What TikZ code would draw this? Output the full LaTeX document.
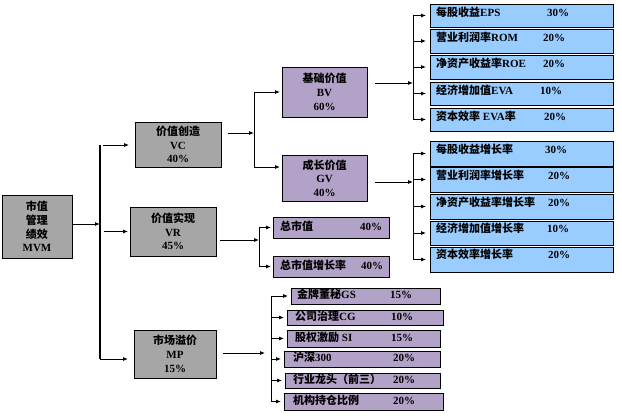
\documentclass[tikz,border=0pt]{standalone}
\usepackage{fontspec}
\setmainfont{Liberation Serif}[BoldFont={Liberation Serif Bold}]
\newfontfamily\cjk{Noto Sans CJK SC}
\usetikzlibrary{arrows.meta}
\newcommand\zh[1]{{\cjk #1}}
\definecolor{boxgray}{HTML}{A6A6A6}
\definecolor{boxpurple}{HTML}{B3A2C7}
\definecolor{boxblue}{HTML}{99CCFF}
\begin{document}
\begin{tikzpicture}[x=1pt,y=-1pt,
  font=\fontsize{11}{13.7}\selectfont\bfseries,
  box/.style={draw=black, line width=0.8pt, inner sep=0pt, outer sep=0pt, anchor=north west},
  graybox/.style={box, fill=boxgray, align=center},
  purplebox/.style={box, fill=boxpurple, align=center},
  bluebox/.style={box, fill=boxblue},
  conn/.style={line width=0.8pt},
  arr/.style={conn, -{Latex[length=5pt,width=4pt]}},
  bus/.style={line width=1.6pt},
  txt/.style={inner sep=0pt, anchor=west, text height=8pt, text depth=2pt},
  pct/.style={inner sep=0pt, anchor=center, text height=8pt, text depth=2pt}]
\useasboundingbox (0,0) rectangle (622,419);

% main boxes
\node[graybox, minimum width=70pt, minimum height=63pt] (mvm) at (2,195) {\zh{市值}\\\zh{管理}\\\zh{绩效}\\MVM};
\node[graybox, minimum width=86pt, minimum height=45pt] (vc) at (135,122) {\zh{价值创造}\\VC\\40\%};
\node[graybox, minimum width=86pt, minimum height=49pt] (vr) at (130,207) {\zh{价值实现}\\VR\\45\%};
\node[graybox, minimum width=82pt, minimum height=48pt] (mp) at (134,330) {\zh{市场溢价}\\MP\\15\%};
\node[purplebox, minimum width=85pt, minimum height=50pt] (bv) at (282,67) {\zh{基础价值}\\BV\\60\%};
\node[purplebox, minimum width=85pt, minimum height=46pt] (gv) at (282,155) {\zh{成长价值}\\GV\\40\%};

% BV group
\node[bluebox, minimum width=183pt, minimum height=23pt] (e1) at (430,4) {};
\node[bluebox, minimum width=183pt, minimum height=24pt] (e2) at (430,29) {};
\node[bluebox, minimum width=183pt, minimum height=24pt] (e3) at (430,55) {};
\node[bluebox, minimum width=183pt, minimum height=23pt] (e4) at (430,82) {};
\node[bluebox, minimum width=183pt, minimum height=23pt] (e5) at (430,108) {};
\node[txt] (e1t) at (436,14) {\zh{每股收益}EPS};
\node[pct] (e1p) at (558,14) {30\%};
\node[txt] (e2t) at (436,39) {\zh{营业利润率}ROM};
\node[pct] (e2p) at (554,39) {20\%};
\node[txt] (e3t) at (436,65) {\zh{净资产收益率}ROE};
\node[pct] (e3p) at (554,65) {20\%};
\node[txt] (e4t) at (436,92) {\zh{经济增加值}EVA};
\node[pct] (e4p) at (551,92) {10\%};
\node[txt] (e5t) at (436,118) {\zh{资本效率} EVA\zh{率}};
\node[pct] (e5p) at (555,118) {20\%};

% GV group
\node[bluebox, minimum width=183pt, minimum height=25pt] (g1) at (430,141) {};
\node[bluebox, minimum width=183pt, minimum height=25pt] (g2) at (430,167) {};
\node[bluebox, minimum width=183pt, minimum height=25pt] (g3) at (430,194) {};
\node[bluebox, minimum width=183pt, minimum height=24pt] (g4) at (430,221) {};
\node[bluebox, minimum width=183pt, minimum height=25pt] (g5) at (430,247) {};
\node[txt] (g1t) at (436,151) {\zh{每股收益增长率}};
\node[pct] (g1p) at (556,151) {30\%};
\node[txt] (g2t) at (436,177) {\zh{营业利润率增长率}};
\node[pct] (g2p) at (559,177) {20\%};
\node[txt] (g3t) at (436,204) {\zh{净资产收益率增长率}};
\node[pct] (g3p) at (559,204) {20\%};
\node[txt] (g4t) at (436,230) {\zh{经济增加值增长率}};
\node[pct] (g4p) at (558,230) {10\%};
\node[txt] (g5t) at (436,256) {\zh{资本效率增长率}};
\node[pct] (g5p) at (559,256) {20\%};

% VR group
\node[purplebox, minimum width=116pt, minimum height=21pt] (r1) at (273,217) {};
\node[purplebox, minimum width=116pt, minimum height=21pt] (r2) at (273,256) {};
\node[txt] (r1t) at (280,227.5) {\zh{总市值}};
\node[pct] (r1p) at (371,227.5) {40\%};
\node[txt] (r2t) at (280,266.5) {\zh{总市值增长率}};
\node[pct] (r2p) at (372,266.5) {40\%};

% MP group
\node[purplebox, minimum width=149pt, minimum height=16pt] (m1) at (291,288) {};
\node[purplebox, minimum width=156pt, minimum height=15pt] (m2) at (287,310) {};
\node[purplebox, minimum width=153pt, minimum height=17pt] (m3) at (287,330) {};
\node[purplebox, minimum width=156pt, minimum height=16pt] (m4) at (284,351) {};
\node[purplebox, minimum width=155pt, minimum height=15pt] (m5) at (285,373) {};
\node[purplebox, minimum width=159pt, minimum height=17pt] (m6) at (284,393) {};
\node[txt] (m1t) at (297,296) {\zh{金牌董秘}GS};
\node[pct] (m1p) at (401,296) {15\%};
\node[txt] (m2t) at (295,317.5) {\zh{公司治理}CG};
\node[pct] (m2p) at (402,317.5) {10\%};
\node[txt] (m3t) at (295,338.5) {\zh{股权激励} SI};
\node[pct] (m3p) at (402,338.5) {15\%};
\node[txt] (m4t) at (293,359) {\zh{沪深}300};
\node[pct] (m4p) at (404,359) {20\%};
\node[txt] (m5t) at (293,380.5) {\zh{行业龙头（前三）}};
\node[pct] (m5p) at (404,380.5) {20\%};
\node[txt] (m6t) at (293,401.5) {\zh{机构持仓比例}};
\node[pct] (m6p) at (404,401.5) {20\%};

% main bus
\coordinate (mbus) at (100,224);
\coordinate (mtop) at (100,145);
\coordinate (mbot) at (100,359);
\draw[arr] (mvm.east |- mbus) -- (mbus);
\draw[bus] (mtop) -- (mbot);
\draw[arr, shorten <=3pt, shorten >=6pt] (mtop) -- (mtop -| vc.west);
\draw[arr, shorten <=4pt, shorten >=2pt] (mbus |- vr.west) -- (vr.west);
\draw[arr, shorten >=6pt] (mbot) -- (mbot -| mp.west);

% VC -> BV / GV
\coordinate (vcbus) at (254,133);
\coordinate (vcbusb) at (254,167);
\draw[arr, shorten <=7pt] (vc.east |- vcbus) -- (vcbus);
\draw[conn] (vcbus |- bv.west) -- (vcbusb);
\draw[arr, shorten >=2pt] (vcbus |- bv.west) -- (bv.west);
\draw[arr, shorten >=2pt] (vcbusb) -- (vcbusb -| gv.west);

% BV -> e
\coordinate (bvbus) at (413,83);
\draw[arr, shorten <=8pt] (bv.east |- bvbus) -- (bvbus);
\draw[conn] (bvbus |- e1.west) -- (bvbus |- e5.west);
\foreach \i in {1,...,5} \draw[arr, shorten >=4pt] (bvbus |- e\i.west) -- (e\i.west);

% GV -> g
\coordinate (gvbus) at (413,182);
\draw[arr, shorten <=8pt] (gv.east |- gvbus) -- (gvbus);
\draw[conn] (gvbus |- g1.west) -- (gvbus |- g5.west);
\foreach \i in {1,...,5} \draw[arr, shorten >=4pt] (gvbus |- g\i.west) -- (g\i.west);

% VR -> r
\coordinate (vrbus) at (259,240);
\draw[arr, shorten <=4pt] (vr.east |- vrbus) -- (vrbus);
\draw[conn] (vrbus |- r1.west) -- (vrbus |- r2.west);
\foreach \i in {1,2} \draw[arr, shorten >=2pt] (vrbus |- r\i.west) -- (r\i.west);

% MP -> m
\coordinate (mpbus) at (271,353);
\draw[arr, shorten <=7pt, shorten >=6pt] (mp.east |- mpbus) -- (mpbus);
\draw[conn] (mpbus |- m1.west) -- (mpbus |- m6.west);
\foreach \i in {1,...,6} \draw[arr, shorten >=3pt] (mpbus |- m\i.west) -- (m\i.west);
\end{tikzpicture}
\end{document}
